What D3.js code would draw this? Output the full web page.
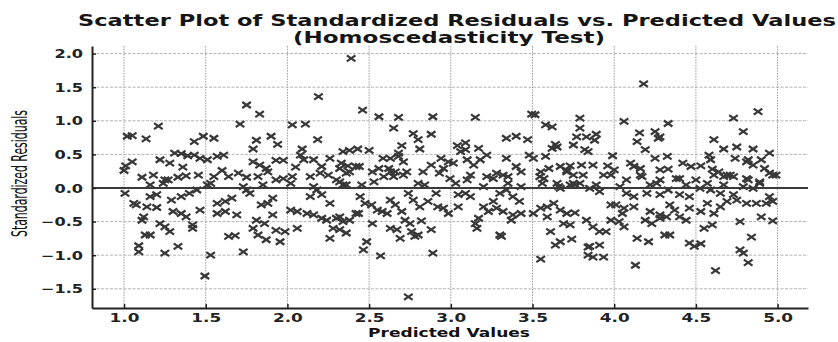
<!DOCTYPE html>
<html>
<head>
<meta charset="utf-8">
<script src="https://cdn.jsdelivr.net/npm/d3@7"></script>
<style>
  body { margin: 0; background: #fff; }
  text { font-family: "DejaVu Sans", sans-serif; }
</style>
</head>
<body>
<div id="chart"></div>
<script>
// values
const predicted = [
  2.39,2.19,2.46,1.75,1.83,1.71,2.03,2.11,1.21,1.02,1.05,1.135,1.81,1.90,1.94,1.79,2.185,1.43,1.485,1.55,
  2.09,2.34,2.38,2.43,1.31,1.35,1.39,1.43,1.465,1.57,1.61,1.22,1.28,1.05,1.01,1.00,1.36,1.51,1.79,1.83,
  1.87,1.93,1.975,2.08,2.10,2.05,2.16,2.21,2.26,2.32,2.37,
  1.11,1.18,1.25,1.33,1.38,1.455,1.55,1.60,1.64,1.70,1.75,1.82,1.88,1.93,1.975,2.03,2.14,2.20,2.25,2.30,
  2.38,2.42,1.16,1.51,1.73,1.85,2.02,2.16,2.34,
  1.006,1.06,1.075,1.16,1.20,1.14,1.20,1.11,1.12,1.13,1.16,1.09,1.09,1.24,1.27,1.25,1.22,1.25,1.28,1.33,
  1.29,1.35,1.40,1.445,1.30,1.35,1.38,1.42,1.42,1.465,1.495,1.53,1.53,1.57,1.62,1.66,1.57,1.62,1.69,1.64,
  1.68,1.73,1.75,1.77,1.79,1.82,1.87,1.955,1.84,1.88,1.91,1.81,1.86,1.91,1.93,1.985,2.02,2.06,2.12,2.16,
  2.06,2.14,2.18,2.21,2.26,2.21,2.24,2.30,2.34,2.38,2.28,2.32,2.26,2.36,2.32,2.36,2.42,
  2.56,2.68,2.89,3.15,3.495,3.515,3.79,2.65,2.77,2.80,2.88,2.81,2.50,2.70,2.68,3.58,3.62,3.34,3.40,3.47,
  3.64,3.62,3.65,3.79,3.77,3.75,3.82,3.04,3.09,3.06,3.09,3.17,3.22,3.34,3.48,3.505,3.58,3.73,3.71,2.585,
  2.63,2.68,2.71,2.73,2.66,2.62,2.83,2.88,2.94,2.985,3.015,2.955,3.10,3.14,3.18,3.28,3.32,3.40,3.43,3.55,
  3.57,3.60,3.67,3.71,3.75,2.455,2.53,2.80,2.84,3.03,3.10,3.20,3.26,3.35,3.43,3.56,3.66,3.76,2.33,2.44,
  2.52,2.56,2.59,2.65,2.71,
  4.18,4.88,4.73,4.06,4.33,4.79,4.155,4.14,4.19,4.25,4.28,4.27,4.61,4.67,4.75,4.85,4.95,4.58,4.59,3.83,
  3.89,3.88,3.84,3.99,4.25,4.325,4.74,4.82,4.90,3.96,4.00,3.935,3.98,4.10,4.12,4.16,4.28,4.33,4.42,4.47,
  4.53,4.60,4.64,4.69,4.73,4.81,4.85,4.92,4.95,4.99,3.87,3.80,4.075,4.17,4.26,4.38,4.44,4.50,4.57,4.67,
  4.82,4.89,3.89,4.035,
  2.74,2.57,2.89,2.465,2.485,2.52,2.63,2.67,2.69,2.76,2.78,2.80,2.88,2.82,3.30,3.31,3.16,3.15,3.17,3.37,
  3.38,3.43,3.55,3.61,3.64,3.67,3.74,3.69,3.73,3.76,3.83,3.84,3.84,2.445,2.435,2.475,2.515,2.55,2.58,2.61,
  2.63,2.66,2.70,2.72,2.75,2.74,2.77,2.81,2.86,2.91,2.92,2.955,2.985,3.045,3.045,3.09,3.12,3.20,3.23,3.26,
  3.28,3.32,3.30,3.34,3.38,3.42,3.505,3.55,3.59,3.63,3.67,3.71,3.59,3.67,3.73,3.79,2.32,
  2.36,2.63,2.93,2.995,3.12,3.22,3.35,3.545,3.65,3.75,3.81,
  4.62,4.13,3.87,3.935,3.85,3.91,4.79,4.77,4.82,4.84,4.46,4.49,4.53,4.31,4.34,4.14,4.21,4.77,4.90,4.97,
  3.87,3.91,3.95,3.98,4.03,4.06,4.19,4.23,4.28,4.32,4.55,4.60,3.98,4.01,4.06,4.12,4.05,4.22,4.28,4.34,
  4.37,4.40,4.44,4.46,4.53,4.57,4.61,4.65,4.69,4.75,4.81,4.87,4.93,4.97,3.85,3.91,4.075,4.12,4.20,4.28,
  4.33,4.40,4.46,4.525,4.59,4.65,4.73,4.79,4.85,4.95,4.16,4.22,4.28,4.40,4.61,4.67,4.71,4.81,4.89,4.97
];
const residuals = [
  1.93,1.36,1.16,1.235,1.10,0.95,0.94,0.95,0.92,0.77,0.78,0.73,0.71,0.77,0.65,0.58,0.72,0.69,0.77,0.74,
  0.58,0.54,0.56,0.58,0.52,0.51,0.48,0.49,0.44,0.47,0.49,0.42,0.37,0.39,0.33,0.26,0.31,0.42,0.39,0.34,
  0.29,0.41,0.41,0.49,0.42,0.31,0.42,0.32,0.44,0.29,0.33,
  0.16,0.19,0.12,0.16,0.18,0.19,0.17,0.26,0.17,0.22,0.16,0.17,0.24,0.12,0.14,0.17,0.17,0.22,0.19,0.12,
  0.24,0.32,0.045,0.045,0.02,0.045,0.07,0.02,0.045,
  -0.08,-0.23,-0.25,-0.13,-0.10,-0.28,-0.29,-0.48,-0.43,-0.70,-0.70,-0.86,-0.95,0.07,0.12,-0.97,-0.53,-0.58,-0.65,-0.87,
  -0.18,-0.13,-0.08,-0.03,-0.35,-0.38,-0.43,-0.55,-0.60,-0.33,-1.31,-1.00,0.07,-0.23,-0.20,-0.15,-0.38,-0.35,-0.40,-0.72,
  -0.71,-0.95,-0.03,-0.08,-0.60,-0.70,-0.77,-0.80,-0.25,-0.23,-0.15,-0.48,-0.53,-0.40,-0.63,-0.65,-0.33,-0.35,-0.38,-0.40,
  -0.60,-0.13,-0.03,-0.10,-0.23,-0.45,-0.48,-0.45,-0.50,-0.48,-0.60,-0.62,-0.75,-0.67,0.09,0.045,-0.38,
  1.06,1.05,1.06,1.05,1.10,1.09,1.04,0.89,0.81,0.72,0.80,0.58,0.56,0.63,0.52,0.94,0.91,0.74,0.77,0.72,
  0.65,0.59,0.61,0.89,0.76,0.64,0.57,0.63,0.67,0.54,0.57,0.59,0.49,0.44,0.49,0.44,0.47,0.33,0.26,0.44,
  0.44,0.47,0.39,0.24,0.24,0.29,0.24,0.34,0.44,0.39,0.37,0.29,0.42,0.34,0.42,0.22,0.19,0.32,0.24,0.24,
  0.14,0.29,0.32,0.24,0.19,0.045,0.09,0.07,0.045,0.07,0.12,0.02,0.14,0.07,0.02,0.07,0.02,0.045,0.37,0.32,
  0.24,0.29,0.17,0.17,0.19,
  1.55,1.135,1.04,0.99,0.96,0.84,0.82,0.69,0.57,0.84,0.76,0.74,0.72,0.58,0.61,0.58,0.52,0.49,0.42,0.76,
  0.80,0.71,0.54,0.48,0.44,0.47,0.44,0.42,0.42,0.33,0.27,0.19,0.19,0.37,0.32,0.29,0.27,0.28,0.37,0.32,
  0.33,0.28,0.24,0.19,0.17,0.39,0.34,0.29,0.22,0.19,0.34,0.34,0.12,0.17,0.07,0.14,0.045,0.12,0.07,0.045,
  0.12,0.07,0.045,0.02,
  -1.62,-1.01,-0.97,-0.92,-0.80,-0.53,-0.60,-0.62,-0.75,-0.65,-0.72,-0.70,-0.62,-0.49,-0.70,-0.72,-0.60,-0.53,-0.45,-0.48,
  -0.40,-0.38,-1.06,-0.65,-0.85,-0.80,-0.76,-0.53,-0.55,-0.37,-0.48,-0.88,-1.00,-0.13,-0.38,-0.23,-0.25,-0.33,-0.35,-0.38,
  -0.18,-0.25,-0.35,-0.48,-0.53,-0.08,-0.18,-0.28,-0.20,-0.08,-0.28,-0.30,-0.38,-0.28,-0.10,-0.08,-0.13,-0.28,-0.35,-0.20,
  -0.30,-0.35,-0.08,-0.03,-0.13,-0.20,-0.38,-0.30,-0.28,-0.23,-0.33,-0.38,-0.43,-0.005,0.045,0.07,-0.43,
  0.22,0.24,0.22,0.14,0.19,0.17,0.17,0.17,0.07,0.07,0.19,
  -1.23,-1.15,-1.03,-1.03,-0.87,-0.85,-0.97,-0.92,-1.11,-0.73,-0.82,-0.87,-0.83,-0.70,-0.70,-0.75,-0.80,-0.50,-0.43,-0.49,
  -0.58,-0.65,-0.65,-0.48,-0.50,-0.58,-0.48,-0.53,-0.45,-0.43,-0.60,-0.55,-0.25,-0.25,-0.30,-0.28,-0.38,-0.35,-0.40,-0.25,
  -0.33,-0.43,-0.48,-0.30,-0.35,-0.23,-0.38,-0.28,-0.20,-0.18,-0.23,-0.23,-0.23,-0.20,-0.005,-0.055,-0.08,-0.13,-0.08,-0.10,
  -0.03,-0.10,-0.13,-0.005,-0.03,-0.08,-0.10,0.02,-0.005,-0.13,0.19,0.045,0.12,0.14,0.19,0.17,0.19,0.14,0.09,0.19
];
const xTicks = [1.0, 1.5, 2.0, 2.5, 3.0, 3.5, 4.0, 4.5, 5.0];
const yTicks = [-1.5, -1.0, -0.5, 0.0, 0.5, 1.0, 1.5, 2.0];
const titleLines = ["Scatter Plot of Standardized Residuals vs. Predicted Values", "(Homoscedasticity Test)"];
const xLabel = "Predicted Values";
const yLabel = "Standardized Residuals";

const width = 838;
const height = 342;
const plotLeft = 92, plotRight = 808, plotTop = 46, plotBottom = 308;

const svg = d3.select("#chart")
  .append("svg")
  .attr("width", width)
  .attr("height", height)
  .attr("viewBox", [0, 0, width, height]);

const x = d3.scaleLinear().domain([0.804, 5.186]).range([plotLeft, plotRight]);
const y = d3.scaleLinear().domain([-1.786, 2.113]).range([plotBottom, plotTop]);

// stretch text to the width it has in the reference
function stretch(sel, k) {
  sel.each(function () {
    const len = this.getComputedTextLength();
    d3.select(this).attr("textLength", len * k).attr("lengthAdjust", "spacingAndGlyphs");
  });
}

// grid
svg.append("g")
  .selectAll("line")
  .data(xTicks)
  .join("line")
  .attr("x1", d => x(d)).attr("x2", d => x(d))
  .attr("y1", plotTop).attr("y2", plotBottom)
  .attr("stroke", "#9a9a9a")
  .attr("stroke-width", 1)
  .attr("stroke-dasharray", "1.5,1.2");

svg.append("g")
  .selectAll("line")
  .data(yTicks)
  .join("line")
  .attr("x1", plotLeft).attr("x2", plotRight)
  .attr("y1", d => y(d)).attr("y2", d => y(d))
  .attr("stroke", "#b4b4b4")
  .attr("stroke-width", 1)
  .attr("stroke-dasharray", "3,1.5");

// zero line
svg.append("line")
  .attr("x1", plotLeft).attr("x2", plotRight)
  .attr("y1", y(0)).attr("y2", y(0))
  .attr("stroke", "#3a3a3a")
  .attr("stroke-width", 2);

// points
const pts = predicted.map((p, i) => [p, residuals[i]]);
svg.append("g")
  .selectAll("path")
  .data(pts)
  .join("path")
  .attr("transform", d => `translate(${x(d[0])},${y(d[1])})`)
  .attr("d", "M-4.3,-3L4.3,3M-4.3,3L4.3,-3")
  .attr("fill", "none")
  .attr("stroke", "#383838")
  .attr("stroke-width", 2.2);

// axes
const fmt = d3.format(".1f");
const gx = svg.append("g")
  .attr("transform", `translate(0,${plotBottom})`)
  .call(d3.axisBottom(x).tickValues(xTicks).tickFormat(fmt).tickSize(-4).tickSizeOuter(0));
gx.select(".domain").attr("stroke", "#222").attr("stroke-width", 2);
gx.selectAll(".tick line").attr("stroke", "#222").attr("stroke-width", 1.5);
gx.selectAll(".tick text")
  .attr("y", 14).attr("dy", null)
  .attr("fill", "#222")
  .style("font-size", "12.5px")
  .style("font-weight", "bold")
  .call(stretch, 1.35);

const gy = svg.append("g")
  .attr("transform", `translate(${plotLeft},0)`)
  .call(d3.axisLeft(y).tickValues(yTicks).tickFormat(fmt).tickSize(-4).tickSizeOuter(0).tickPadding(9));
gy.select(".domain").attr("stroke", "#222").attr("stroke-width", 2);
gy.selectAll(".tick line").attr("stroke", "#222").attr("stroke-width", 1.5);
gy.selectAll(".tick text")
  .attr("dy", "0.36em")
  .attr("fill", "#222")
  .style("font-size", "11.5px")
  .style("font-weight", "bold")
  .call(stretch, 1.4);

// title, glyphs squeezed a little vertically as in the reference
const titleSizes = [[457, 25.5, 758], [449, 42.5, 312]];
titleLines.forEach((t, i) => {
  const [cx, by, len] = titleSizes[i];
  svg.append("g")
    .attr("transform", `translate(${cx},${by}) scale(1,0.86)`)
    .append("text")
    .attr("text-anchor", "middle")
    .attr("fill", "#151515")
    .style("font-size", "18.5px")
    .style("font-weight", "bold")
    .attr("textLength", len)
    .attr("lengthAdjust", "spacingAndGlyphs")
    .text(t);
});

// axis labels
svg.append("text")
  .attr("x", 449).attr("y", 337)
  .attr("text-anchor", "middle")
  .attr("fill", "#111")
  .style("font-size", "12.5px")
  .style("font-weight", "bold")
  .attr("textLength", 162)
  .attr("lengthAdjust", "spacingAndGlyphs")
  .text(xLabel);

svg.append("g")
  .attr("transform", "translate(27,173.5) rotate(-90) scale(1,1.5)")
  .append("text")
  .attr("text-anchor", "middle")
  .attr("fill", "#111")
  .style("font-size", "14px")
  .attr("textLength", 127)
  .attr("lengthAdjust", "spacingAndGlyphs")
  .text(yLabel);
</script>
</body>
</html>
